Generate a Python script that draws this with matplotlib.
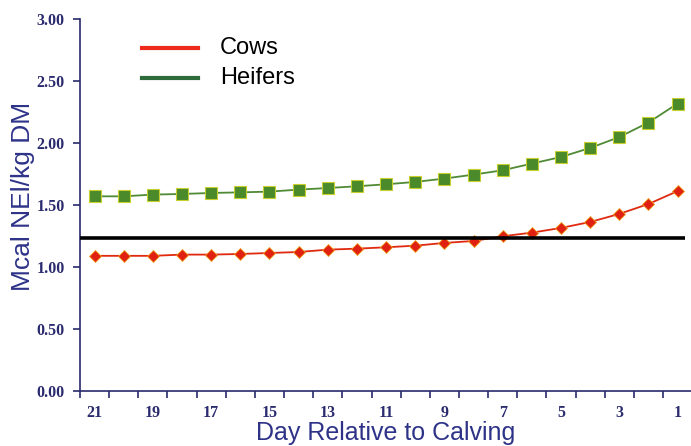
import matplotlib
matplotlib.use('Agg')
import matplotlib.pyplot as plt
import numpy as np

# data
days = [21, 20, 19, 18, 17, 16, 15, 14, 13, 12, 11, 10, 9, 8, 7, 6, 5, 4, 3, 2, 1]
cows = [1.09, 1.09, 1.09, 1.10, 1.10, 1.105, 1.113, 1.121, 1.14, 1.148, 1.159,
        1.172, 1.194, 1.21, 1.248, 1.277, 1.315, 1.363, 1.428, 1.508, 1.612]
heifers = [1.57, 1.57, 1.584, 1.589, 1.597, 1.602, 1.608, 1.624, 1.637, 1.651, 1.667,
           1.686, 1.713, 1.745, 1.78, 1.834, 1.887, 1.96, 2.048, 2.165, 2.318]
threshold = 1.237
yticks = [0.0, 0.5, 1.0, 1.5, 2.0, 2.5, 3.0]

navy = '#2a2a6e'
label_blue = '#2e3388'

fig = plt.figure(figsize=(6.91, 4.46), dpi=100)
ax = fig.add_axes([80/691, 55/446, 611/691, 372/446])

x = np.arange(len(days))
ax.plot(x, heifers, color='#4f8a35', lw=1.3, marker='s', ms=8.5,
        mfc='#4a8a2a', mec='#c8d030', mew=0.8, zorder=3)
ax.plot(x, cows, color='#e02a10', lw=1.3, marker='D', ms=6.5,
        mfc='#e02010', mec='#f0a020', mew=0.6, zorder=4)
ax.plot([-0.5, 20.25], [threshold, threshold], color='black', lw=2.6, zorder=5,
        solid_capstyle='butt')

ax.set_xlim(-0.5, 20.46)
ax.set_ylim(0, 3.0)

for s in ['top', 'right']:
    ax.spines[s].set_visible(False)
for s in ['left', 'bottom']:
    ax.spines[s].set_color(navy)
    ax.spines[s].set_linewidth(1.2)

ax.set_yticks(yticks)
ax.set_yticklabels(['%.2f' % v for v in yticks], family='Liberation Serif',
                   fontweight='bold', fontsize=11.5, color=navy)
ax.tick_params(axis='y', length=5, width=1.2, color=navy, pad=6)

# major ticks between categories, labels at odd days
ax.set_xticks(np.arange(-0.5, 20.5, 1.0))
ax.set_xticklabels([])
ax.set_xticks(x[::2], minor=True)
ax.set_xticklabels([str(d) for d in days[::2]], minor=True,
                   family='Liberation Serif', fontweight='bold', fontsize=11.5, color=navy)
ax.tick_params(axis='x', which='major', length=5, width=1.2, color=navy)
ax.tick_params(axis='x', which='minor', length=0, pad=10)

ax.set_xlabel('Day Relative to Calving', family='Liberation Sans', fontsize=18,
              color=label_blue, labelpad=0)
ax.set_ylabel('Mcal NEl/kg DM', family='Liberation Sans', fontsize=19,
              color=label_blue)
ax.yaxis.set_label_coords(-45/611, (446-196-55)/372)

# legend drawn as lines + text in axes fraction
leg_ax = ax.transAxes
ax.plot([62/611, 118/611], [(446-47.7-55)/372]*2, color='#ee2a1a', lw=3,
        transform=leg_ax, clip_on=False)
ax.plot([62/611, 118/611], [(446-78.3-55)/372]*2, color='#2f6b3a', lw=3,
        transform=leg_ax, clip_on=False)
ax.text(140/611, (446-47.7-55)/372, 'Cows', transform=leg_ax, family='Liberation Sans',
        fontsize=17, va='center', ha='left', color='black')
ax.text(140/611, (446-78.3-55)/372, 'Heifers', transform=leg_ax, family='Liberation Sans',
        fontsize=17, va='center', ha='left', color='black')

fig.savefig('out.png', dpi=100)
